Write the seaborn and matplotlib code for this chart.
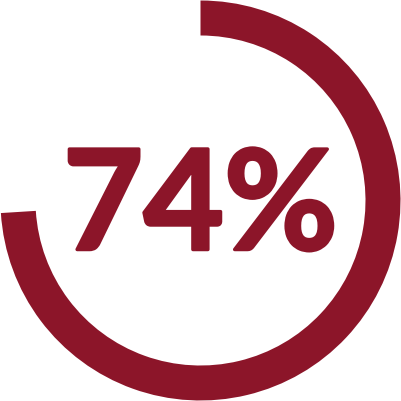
import matplotlib
matplotlib.use("Agg")
import matplotlib.pyplot as plt
import matplotlib.patheffects as pe
import seaborn as sns

# data
labels = ["done", "rest"]
shares = [74, 26]
value_text = "74%"

RED = "#8C1529"

sns.set_theme(style="white")
plt.rcParams["font.family"] = ["Lato", "DejaVu Sans"]

fig = plt.figure(figsize=(4.01, 4.01), dpi=100)
ax = fig.add_axes([0, 0, 1, 1])

ax.pie(shares, radius=200, startangle=90, counterclock=False,
       colors=[RED, "none"],
       wedgeprops=dict(width=35, linewidth=0))

# heavier look than plain bold, the original is a black weight
ax.text(0, -49, value_text, ha="center", va="baseline",
        fontsize=100, fontweight="bold", color=RED,
        path_effects=[pe.withStroke(linewidth=2.5, foreground=RED)])

ax.set_xlim(-200.5, 200.5)
ax.set_ylim(-200.5, 200.5)
ax.set_aspect("equal")
ax.axis("off")

fig.savefig("out.png", dpi=100, facecolor="white")
